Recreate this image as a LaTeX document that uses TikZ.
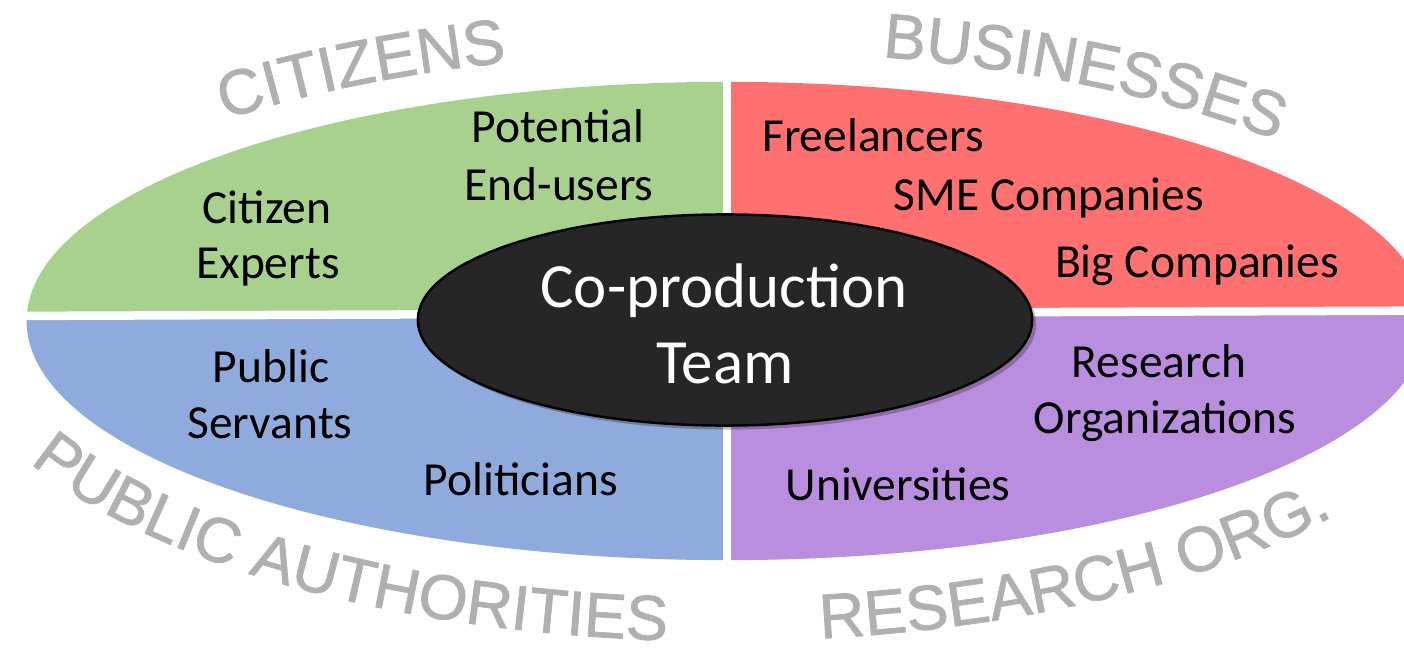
\documentclass[tikz,border=0pt]{standalone}
\usepackage{fontspec}
\setmainfont{Carlito}
\newfontfamily\lblfont[BoldFont={Liberation Sans}, BoldFeatures={FakeBold=1.2}]{Liberation Sans}
\usetikzlibrary{decorations.text,shapes.geometric}
\definecolor{qgreen}{HTML}{A9D18E}
\definecolor{qred}{HTML}{FF7171}
\definecolor{qblue}{HTML}{8FAADC}
\definecolor{qpurple}{HTML}{BA8EDE}
\definecolor{cdark}{HTML}{262626}
\definecolor{lblgray}{HTML}{B0B0B0}
\newcommand\lblstyle{\lblfont\bfseries\fontsize{18pt}{21pt}\selectfont\color{lblgray}}
\tikzset{
  item/.style={font=\fontsize{13.5pt}{16pt}\selectfont, text=black, anchor=base, inner sep=0pt},
  teamtxt/.style={font=\fontsize{17.9pt}{21pt}\selectfont, text=white, anchor=base, inner sep=0pt},
  gap/.style={white, line width=0.085cm},
  arclabel/.style={decorate, decoration={text along path, text={|\lblstyle|#1}}}
}
\begin{document}
\begin{tikzpicture}[x=0.01cm,y=0.01cm]
\useasboundingbox (0,0) rectangle (1404,648);
% quadrants of the big ellipse
\begin{scope}
  \clip (727,327) ellipse [x radius=7cm, y radius=2.39cm];
  \fill[qgreen]  (-10,332) -- (727,334.6) -- (727,700) -- (-10,700) -- cycle;
  \fill[qred]    (727,334.6) -- (1450,337.3) -- (1450,700) -- (727,700) -- cycle;
  \fill[qblue]   (-10,332) -- (727,334.6) -- (727,-10) -- (-10,-10) -- cycle;
  \fill[qpurple] (727,334.6) -- (1450,337.3) -- (1450,-10) -- (727,-10) -- cycle;
\end{scope}
\draw[gap] (0,332) -- (1404,337.3);
\draw[gap] (727,0) -- (727,648);
% centre ellipse
\fill[black, opacity=0.25] (729,324) ellipse [x radius=3.07cm, y radius=1.055cm];
\node[ellipse, minimum width=6.14cm, minimum height=2.11cm, inner sep=0pt,
      fill=cdark, draw=black, line width=0.7pt] (team) at (725,328) {};
\node[teamtxt] (co) at (724,341) {Co-production};
\node[teamtxt] (tm) at (725,265) {Team};
% items
\node[item] (pot) at (558,505) {Potential};
\node[item] (end) at (559,448) {End-users};
\node[item] (cit) at (267,425) {Citizen};
\node[item] (exp) at (268,370) {Experts};
\node[item] (fre) at (873,496) {Freelancers};
\node[item] (sme) at (1049,438) {SME Companies};
\node[item] (big) at (1197,371) {Big Companies};
\node[item] (pub) at (271,266) {Public};
\node[item] (ser) at (270,210) {Servants};
\node[item] (pol) at (521,153) {Politicians};
\node[item] (res) at (1159,271) {Research};
\node[item] (org) at (1165,215) {Organizations};
\node[item] (uni) at (898,148) {Universities};
% curved labels
\path[arclabel={CITIZENS}] (722,332) ++(132.2:7.4cm and 2.65cm)
  arc[start angle=132.2, end angle=60, x radius=7.4cm, y radius=2.65cm];
\path[arclabel={BUSINESSES}] (722,332) ++(77.5:7.4cm and 2.65cm)
  arc[start angle=77.5, end angle=5, x radius=7.4cm, y radius=2.65cm];
\path[arclabel={PUBLIC AUTHORITIES}] (722,332) ++(206.8:7.75cm and 3.25cm)
  arc[start angle=206.8, end angle=300, x radius=7.75cm, y radius=3.25cm];
\path[arclabel={RESEARCH ORG.}] (722,332) ++(277.3:7.75cm and 3.25cm)
  arc[start angle=277.3, end angle=355, x radius=7.75cm, y radius=3.25cm];
\end{tikzpicture}
\end{document}
